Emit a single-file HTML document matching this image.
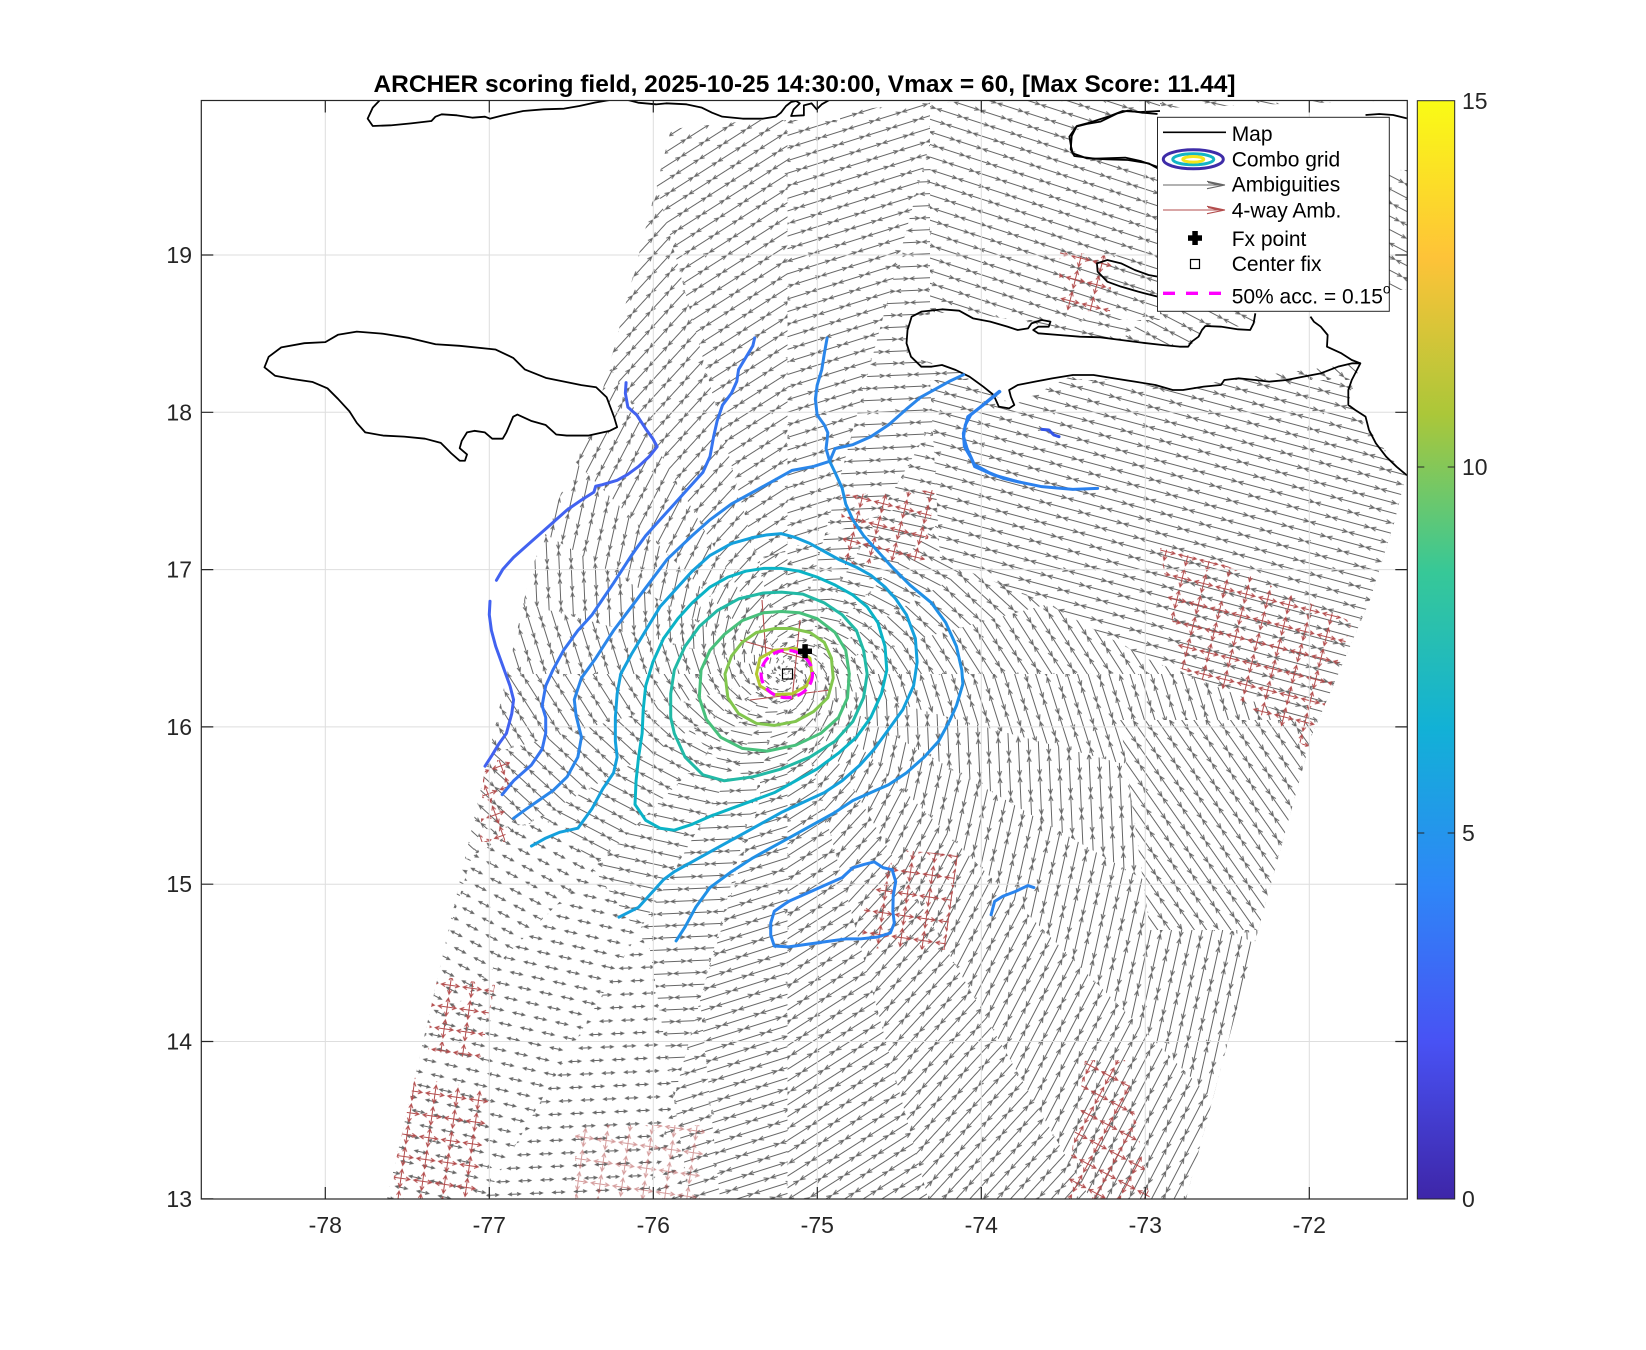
<!DOCTYPE html>
<html><head><meta charset="utf-8">
<style>
html,body{margin:0;padding:0;background:#fff;width:1646px;height:1350px;overflow:hidden;}
svg{display:block;font-family:"Liberation Sans",Arial,sans-serif;}
</style></head><body>
<svg xmlns="http://www.w3.org/2000/svg" xmlns:xlink="http://www.w3.org/1999/xlink" width="1646" height="1350" viewBox="0 0 1646 1350">
<defs>
<clipPath id="ax"><rect x="201.3" y="100.5" width="1206" height="1098.5"/></clipPath>
<clipPath id="swc"><polygon points="387,1199 495,727 531,570 562,491 600,400 640,250 671,129 921,103 1000,100 1407,100 1407,470 1395,520 1370,600 1312,735 1250,960 1186,1199"/></clipPath>
<clipPath id="longc"><polygon points="760,560 1000,470 1407,440 1407,1199 720,1199 700,1000 760,800"/><circle cx="787.5" cy="674" r="110"/></clipPath>
<clipPath id="shortc"><polygon points="380,1199 440,960 480,830 560,820 650,950 690,1199"/></clipPath>
<linearGradient id="cb" x1="0" y1="1" x2="0" y2="0">
<stop offset="0" stop-color="#3e26a8"/>
<stop offset="0.1429" stop-color="#4852f4"/>
<stop offset="0.2857" stop-color="#2e87f7"/>
<stop offset="0.4286" stop-color="#12b1d6"/>
<stop offset="0.5714" stop-color="#37c897"/>
<stop offset="0.7143" stop-color="#abc739"/>
<stop offset="0.8571" stop-color="#fec338"/>
<stop offset="1" stop-color="#f9fb15"/>
</linearGradient>

<!-- wedges around center (clipped to plot area) -->
<path id="w0" d="M787.5 674L1412 674L1412 506.7Z"/>
<path id="w1" d="M787.5 674L1412 506.7L1412 313.4Z"/>
<path id="w2" d="M787.5 674L1412 313.4L1412 95L1366.5 95Z"/>
<path id="w3" d="M787.5 674L1366.5 95L1121.8 95Z"/>
<path id="w4" d="M787.5 674L1121.8 95L942.6 95Z"/>
<path id="w5" d="M787.5 674L942.6 95L787.5 95Z"/>
<path id="w6" d="M787.5 674L787.5 95L632.4 95Z"/>
<path id="w7" d="M787.5 674L632.4 95L453.2 95Z"/>
<path id="w8" d="M787.5 674L453.2 95L208.5 95Z"/>
<path id="w9" d="M787.5 674L208.5 95L195 95L195 331.9Z"/>
<path id="w10" d="M787.5 674L195 331.9L195 515.2Z"/>
<path id="w11" d="M787.5 674L195 515.2L195 674Z"/>
<path id="w12" d="M787.5 674L195 674L195 832.8Z"/>
<path id="w13" d="M787.5 674L195 832.8L195 1016.1Z"/>
<path id="w14" d="M787.5 674L195 1016.1L195 1205L256.5 1205Z"/>
<path id="w15" d="M787.5 674L256.5 1205L480.9 1205Z"/>
<path id="w16" d="M787.5 674L480.9 1205L645.2 1205Z"/>
<path id="w17" d="M787.5 674L645.2 1205L787.5 1205Z"/>
<path id="w18" d="M787.5 674L787.5 1205L929.8 1205Z"/>
<path id="w19" d="M787.5 674L929.8 1205L1094.1 1205Z"/>
<path id="w20" d="M787.5 674L1094.1 1205L1318.5 1205Z"/>
<path id="w21" d="M787.5 674L1318.5 1205L1412 1205L1412 1034.6Z"/>
<path id="w22" d="M787.5 674L1412 1034.6L1412 841.3Z"/>
<path id="w23" d="M787.5 674L1412 841.3L1412 674Z"/>

<!-- medium patterns -->
<pattern id="M0" width="28" height="24" patternUnits="userSpaceOnUse" patternTransform="rotate(57.5)"><path d="M1 6H27M22.5 4.2L27 6L22.5 7.8M5.5 4.2L1 6L5.5 7.8M15 18H28M0 18H13M8.5 16.2L13 18L8.5 19.8M19.5 16.2L15 18L19.5 19.8" stroke="#666" fill="none"/></pattern>
<pattern id="M1" width="28" height="24" patternUnits="userSpaceOnUse" patternTransform="rotate(42.5)"><path d="M1 6H27M22.5 4.2L27 6L22.5 7.8M5.5 4.2L1 6L5.5 7.8M15 18H28M0 18H13M8.5 16.2L13 18L8.5 19.8M19.5 16.2L15 18L19.5 19.8" stroke="#666" fill="none"/></pattern>
<pattern id="M2" width="28" height="24" patternUnits="userSpaceOnUse" patternTransform="rotate(27.5)"><path d="M1 6H27M22.5 4.2L27 6L22.5 7.8M5.5 4.2L1 6L5.5 7.8M15 18H28M0 18H13M8.5 16.2L13 18L8.5 19.8M19.5 16.2L15 18L19.5 19.8" stroke="#666" fill="none"/></pattern>
<pattern id="M3" width="28" height="24" patternUnits="userSpaceOnUse" patternTransform="rotate(12.5)"><path d="M1 6H27M22.5 4.2L27 6L22.5 7.8M5.5 4.2L1 6L5.5 7.8M15 18H28M0 18H13M8.5 16.2L13 18L8.5 19.8M19.5 16.2L15 18L19.5 19.8" stroke="#666" fill="none"/></pattern>
<pattern id="M4" width="28" height="24" patternUnits="userSpaceOnUse" patternTransform="rotate(-2.5)"><path d="M1 6H27M22.5 4.2L27 6L22.5 7.8M5.5 4.2L1 6L5.5 7.8M15 18H28M0 18H13M8.5 16.2L13 18L8.5 19.8M19.5 16.2L15 18L19.5 19.8" stroke="#666" fill="none"/></pattern>
<pattern id="M5" width="28" height="24" patternUnits="userSpaceOnUse" patternTransform="rotate(-17.5)"><path d="M1 6H27M22.5 4.2L27 6L22.5 7.8M5.5 4.2L1 6L5.5 7.8M15 18H28M0 18H13M8.5 16.2L13 18L8.5 19.8M19.5 16.2L15 18L19.5 19.8" stroke="#666" fill="none"/></pattern>
<pattern id="M6" width="28" height="24" patternUnits="userSpaceOnUse" patternTransform="rotate(-32.5)"><path d="M1 6H27M22.5 4.2L27 6L22.5 7.8M5.5 4.2L1 6L5.5 7.8M15 18H28M0 18H13M8.5 16.2L13 18L8.5 19.8M19.5 16.2L15 18L19.5 19.8" stroke="#666" fill="none"/></pattern>
<pattern id="M7" width="28" height="24" patternUnits="userSpaceOnUse" patternTransform="rotate(-47.5)"><path d="M1 6H27M22.5 4.2L27 6L22.5 7.8M5.5 4.2L1 6L5.5 7.8M15 18H28M0 18H13M8.5 16.2L13 18L8.5 19.8M19.5 16.2L15 18L19.5 19.8" stroke="#666" fill="none"/></pattern>
<pattern id="M8" width="28" height="24" patternUnits="userSpaceOnUse" patternTransform="rotate(-62.5)"><path d="M1 6H27M22.5 4.2L27 6L22.5 7.8M5.5 4.2L1 6L5.5 7.8M15 18H28M0 18H13M8.5 16.2L13 18L8.5 19.8M19.5 16.2L15 18L19.5 19.8" stroke="#666" fill="none"/></pattern>
<pattern id="M9" width="28" height="24" patternUnits="userSpaceOnUse" patternTransform="rotate(-77.5)"><path d="M1 6H27M22.5 4.2L27 6L22.5 7.8M5.5 4.2L1 6L5.5 7.8M15 18H28M0 18H13M8.5 16.2L13 18L8.5 19.8M19.5 16.2L15 18L19.5 19.8" stroke="#666" fill="none"/></pattern>
<pattern id="M10" width="28" height="24" patternUnits="userSpaceOnUse" patternTransform="rotate(87.5)"><path d="M1 6H27M22.5 4.2L27 6L22.5 7.8M5.5 4.2L1 6L5.5 7.8M15 18H28M0 18H13M8.5 16.2L13 18L8.5 19.8M19.5 16.2L15 18L19.5 19.8" stroke="#666" fill="none"/></pattern>
<pattern id="M11" width="28" height="24" patternUnits="userSpaceOnUse" patternTransform="rotate(72.5)"><path d="M1 6H27M22.5 4.2L27 6L22.5 7.8M5.5 4.2L1 6L5.5 7.8M15 18H28M0 18H13M8.5 16.2L13 18L8.5 19.8M19.5 16.2L15 18L19.5 19.8" stroke="#666" fill="none"/></pattern>

<!-- long patterns -->
<pattern id="L0" width="40" height="20" patternUnits="userSpaceOnUse" patternTransform="rotate(57.5)"><path d="M1 5H39M34 3L39 5L34 7M6 3L1 5L6 7M21 15H40M0 15H19M14 13L19 15L14 17M26 13L21 15L26 17" stroke="#666" fill="none"/></pattern>
<pattern id="L1" width="40" height="20" patternUnits="userSpaceOnUse" patternTransform="rotate(42.5)"><path d="M1 5H39M34 3L39 5L34 7M6 3L1 5L6 7M21 15H40M0 15H19M14 13L19 15L14 17M26 13L21 15L26 17" stroke="#666" fill="none"/></pattern>
<pattern id="L2" width="40" height="20" patternUnits="userSpaceOnUse" patternTransform="rotate(27.5)"><path d="M1 5H39M34 3L39 5L34 7M6 3L1 5L6 7M21 15H40M0 15H19M14 13L19 15L14 17M26 13L21 15L26 17" stroke="#666" fill="none"/></pattern>
<pattern id="L3" width="40" height="20" patternUnits="userSpaceOnUse" patternTransform="rotate(12.5)"><path d="M1 5H39M34 3L39 5L34 7M6 3L1 5L6 7M21 15H40M0 15H19M14 13L19 15L14 17M26 13L21 15L26 17" stroke="#666" fill="none"/></pattern>
<pattern id="L4" width="40" height="20" patternUnits="userSpaceOnUse" patternTransform="rotate(-2.5)"><path d="M1 5H39M34 3L39 5L34 7M6 3L1 5L6 7M21 15H40M0 15H19M14 13L19 15L14 17M26 13L21 15L26 17" stroke="#666" fill="none"/></pattern>
<pattern id="L5" width="40" height="20" patternUnits="userSpaceOnUse" patternTransform="rotate(-17.5)"><path d="M1 5H39M34 3L39 5L34 7M6 3L1 5L6 7M21 15H40M0 15H19M14 13L19 15L14 17M26 13L21 15L26 17" stroke="#666" fill="none"/></pattern>
<pattern id="L6" width="40" height="20" patternUnits="userSpaceOnUse" patternTransform="rotate(-32.5)"><path d="M1 5H39M34 3L39 5L34 7M6 3L1 5L6 7M21 15H40M0 15H19M14 13L19 15L14 17M26 13L21 15L26 17" stroke="#666" fill="none"/></pattern>
<pattern id="L7" width="40" height="20" patternUnits="userSpaceOnUse" patternTransform="rotate(-47.5)"><path d="M1 5H39M34 3L39 5L34 7M6 3L1 5L6 7M21 15H40M0 15H19M14 13L19 15L14 17M26 13L21 15L26 17" stroke="#666" fill="none"/></pattern>
<pattern id="L8" width="40" height="20" patternUnits="userSpaceOnUse" patternTransform="rotate(-62.5)"><path d="M1 5H39M34 3L39 5L34 7M6 3L1 5L6 7M21 15H40M0 15H19M14 13L19 15L14 17M26 13L21 15L26 17" stroke="#666" fill="none"/></pattern>
<pattern id="L9" width="40" height="20" patternUnits="userSpaceOnUse" patternTransform="rotate(-77.5)"><path d="M1 5H39M34 3L39 5L34 7M6 3L1 5L6 7M21 15H40M0 15H19M14 13L19 15L14 17M26 13L21 15L26 17" stroke="#666" fill="none"/></pattern>
<pattern id="L10" width="40" height="20" patternUnits="userSpaceOnUse" patternTransform="rotate(87.5)"><path d="M1 5H39M34 3L39 5L34 7M6 3L1 5L6 7M21 15H40M0 15H19M14 13L19 15L14 17M26 13L21 15L26 17" stroke="#666" fill="none"/></pattern>
<pattern id="L11" width="40" height="20" patternUnits="userSpaceOnUse" patternTransform="rotate(72.5)"><path d="M1 5H39M34 3L39 5L34 7M6 3L1 5L6 7M21 15H40M0 15H19M14 13L19 15L14 17M26 13L21 15L26 17" stroke="#666" fill="none"/></pattern>

<!-- short patterns -->
<pattern id="S0" width="22" height="26" patternUnits="userSpaceOnUse" patternTransform="rotate(57.5)"><path d="M5 6.5H17M13.5 5L17 6.5L13.5 8M8.5 5L5 6.5L8.5 8M16 19.5H22M0 19.5H6M2.5 18L6 19.5L2.5 21M19.5 18L16 19.5L19.5 21" stroke="#666" fill="none"/></pattern>
<pattern id="S1" width="22" height="26" patternUnits="userSpaceOnUse" patternTransform="rotate(42.5)"><path d="M5 6.5H17M13.5 5L17 6.5L13.5 8M8.5 5L5 6.5L8.5 8M16 19.5H22M0 19.5H6M2.5 18L6 19.5L2.5 21M19.5 18L16 19.5L19.5 21" stroke="#666" fill="none"/></pattern>
<pattern id="S2" width="22" height="26" patternUnits="userSpaceOnUse" patternTransform="rotate(27.5)"><path d="M5 6.5H17M13.5 5L17 6.5L13.5 8M8.5 5L5 6.5L8.5 8M16 19.5H22M0 19.5H6M2.5 18L6 19.5L2.5 21M19.5 18L16 19.5L19.5 21" stroke="#666" fill="none"/></pattern>
<pattern id="S3" width="22" height="26" patternUnits="userSpaceOnUse" patternTransform="rotate(12.5)"><path d="M5 6.5H17M13.5 5L17 6.5L13.5 8M8.5 5L5 6.5L8.5 8M16 19.5H22M0 19.5H6M2.5 18L6 19.5L2.5 21M19.5 18L16 19.5L19.5 21" stroke="#666" fill="none"/></pattern>
<pattern id="S4" width="22" height="26" patternUnits="userSpaceOnUse" patternTransform="rotate(-2.5)"><path d="M5 6.5H17M13.5 5L17 6.5L13.5 8M8.5 5L5 6.5L8.5 8M16 19.5H22M0 19.5H6M2.5 18L6 19.5L2.5 21M19.5 18L16 19.5L19.5 21" stroke="#666" fill="none"/></pattern>
<pattern id="S5" width="22" height="26" patternUnits="userSpaceOnUse" patternTransform="rotate(-17.5)"><path d="M5 6.5H17M13.5 5L17 6.5L13.5 8M8.5 5L5 6.5L8.5 8M16 19.5H22M0 19.5H6M2.5 18L6 19.5L2.5 21M19.5 18L16 19.5L19.5 21" stroke="#666" fill="none"/></pattern>
<pattern id="S6" width="22" height="26" patternUnits="userSpaceOnUse" patternTransform="rotate(-32.5)"><path d="M5 6.5H17M13.5 5L17 6.5L13.5 8M8.5 5L5 6.5L8.5 8M16 19.5H22M0 19.5H6M2.5 18L6 19.5L2.5 21M19.5 18L16 19.5L19.5 21" stroke="#666" fill="none"/></pattern>
<pattern id="S7" width="22" height="26" patternUnits="userSpaceOnUse" patternTransform="rotate(-47.5)"><path d="M5 6.5H17M13.5 5L17 6.5L13.5 8M8.5 5L5 6.5L8.5 8M16 19.5H22M0 19.5H6M2.5 18L6 19.5L2.5 21M19.5 18L16 19.5L19.5 21" stroke="#666" fill="none"/></pattern>
<pattern id="S8" width="22" height="26" patternUnits="userSpaceOnUse" patternTransform="rotate(-62.5)"><path d="M5 6.5H17M13.5 5L17 6.5L13.5 8M8.5 5L5 6.5L8.5 8M16 19.5H22M0 19.5H6M2.5 18L6 19.5L2.5 21M19.5 18L16 19.5L19.5 21" stroke="#666" fill="none"/></pattern>
<pattern id="S9" width="22" height="26" patternUnits="userSpaceOnUse" patternTransform="rotate(-77.5)"><path d="M5 6.5H17M13.5 5L17 6.5L13.5 8M8.5 5L5 6.5L8.5 8M16 19.5H22M0 19.5H6M2.5 18L6 19.5L2.5 21M19.5 18L16 19.5L19.5 21" stroke="#666" fill="none"/></pattern>
<pattern id="S10" width="22" height="26" patternUnits="userSpaceOnUse" patternTransform="rotate(87.5)"><path d="M5 6.5H17M13.5 5L17 6.5L13.5 8M8.5 5L5 6.5L8.5 8M16 19.5H22M0 19.5H6M2.5 18L6 19.5L2.5 21M19.5 18L16 19.5L19.5 21" stroke="#666" fill="none"/></pattern>
<pattern id="S11" width="22" height="26" patternUnits="userSpaceOnUse" patternTransform="rotate(72.5)"><path d="M5 6.5H17M13.5 5L17 6.5L13.5 8M8.5 5L5 6.5L8.5 8M16 19.5H22M0 19.5H6M2.5 18L6 19.5L2.5 21M19.5 18L16 19.5L19.5 21" stroke="#666" fill="none"/></pattern>

<!-- override patterns -->
<pattern id="LR15" width="40" height="20" patternUnits="userSpaceOnUse" patternTransform="rotate(15)"><path d="M1 5H39M34 3L39 5L34 7M6 3L1 5L6 7M21 15H40M0 15H19M14 13L19 15L14 17M26 13L21 15L26 17" stroke="#666" fill="none"/></pattern>
<pattern id="LR55" width="40" height="20" patternUnits="userSpaceOnUse" patternTransform="rotate(55)"><path d="M1 5H39M34 3L39 5L34 7M6 3L1 5L6 7M21 15H40M0 15H19M14 13L19 15L14 17M26 13L21 15L26 17" stroke="#666" fill="none"/></pattern>
<pattern id="MR18" width="28" height="24" patternUnits="userSpaceOnUse" patternTransform="rotate(18)"><path d="M1 6H27M22.5 4.2L27 6L22.5 7.8M5.5 4.2L1 6L5.5 7.8M15 18H28M0 18H13M8.5 16.2L13 18L8.5 19.8M19.5 16.2L15 18L19.5 19.8" stroke="#666" fill="none"/></pattern>

<!-- red 4-way patterns -->
<pattern id="R14" width="22" height="22" patternUnits="userSpaceOnUse" patternTransform="rotate(14)"><path d="M2 11H20M11 2V20M16 9L20 11L16 13M6 9L2 11L6 13M9 6L11 2L13 6M9 16L11 20L13 16" stroke="#b34d4d" fill="none"/></pattern>
<pattern id="R8" width="22" height="22" patternUnits="userSpaceOnUse" patternTransform="rotate(8)"><path d="M2 11H20M11 2V20M16 9L20 11L16 13M6 9L2 11L6 13M9 6L11 2L13 6M9 16L11 20L13 16" stroke="#b34d4d" fill="none"/></pattern>
<pattern id="R28" width="22" height="22" patternUnits="userSpaceOnUse" patternTransform="rotate(28)"><path d="M2 11H20M11 2V20M16 9L20 11L16 13M6 9L2 11L6 13M9 6L11 2L13 6M9 16L11 20L13 16" stroke="#b34d4d" fill="none"/></pattern>
<pattern id="Rm20" width="22" height="22" patternUnits="userSpaceOnUse" patternTransform="rotate(-20)"><path d="M2 11H20M11 2V20M16 9L20 11L16 13M6 9L2 11L6 13M9 6L11 2L13 6M9 16L11 20L13 16" stroke="#b34d4d" fill="none"/></pattern>
</defs>

<rect width="1646" height="1350" fill="#fff"/>

<!-- wind ambiguity field -->
<g clip-path="url(#ax)">
<g clip-path="url(#swc)">
<use href="#w0" fill="url(#M0)"/><use href="#w1" fill="url(#M1)"/><use href="#w2" fill="url(#M2)"/><use href="#w3" fill="url(#M3)"/>
<use href="#w4" fill="url(#M4)"/><use href="#w5" fill="url(#M5)"/><use href="#w6" fill="url(#M6)"/><use href="#w7" fill="url(#M7)"/>
<use href="#w8" fill="url(#M8)"/><use href="#w9" fill="url(#M9)"/><use href="#w10" fill="url(#M10)"/><use href="#w11" fill="url(#M11)"/>
<use href="#w12" fill="url(#M0)"/><use href="#w13" fill="url(#M1)"/><use href="#w14" fill="url(#M2)"/><use href="#w15" fill="url(#M3)"/>
<use href="#w16" fill="url(#M4)"/><use href="#w17" fill="url(#M5)"/><use href="#w18" fill="url(#M6)"/><use href="#w19" fill="url(#M7)"/>
<use href="#w20" fill="url(#M8)"/><use href="#w21" fill="url(#M9)"/><use href="#w22" fill="url(#M10)"/><use href="#w23" fill="url(#M11)"/>

<g clip-path="url(#longc)">
<rect x="201" y="100" width="1207" height="1100" fill="#fff"/>
<use href="#w0" fill="url(#L0)"/><use href="#w1" fill="url(#L1)"/><use href="#w2" fill="url(#L2)"/><use href="#w3" fill="url(#L3)"/>
<use href="#w4" fill="url(#L4)"/><use href="#w5" fill="url(#L5)"/><use href="#w6" fill="url(#L6)"/><use href="#w7" fill="url(#L7)"/>
<use href="#w8" fill="url(#L8)"/><use href="#w9" fill="url(#L9)"/><use href="#w10" fill="url(#L10)"/><use href="#w11" fill="url(#L11)"/>
<use href="#w12" fill="url(#L0)"/><use href="#w13" fill="url(#L1)"/><use href="#w14" fill="url(#L2)"/><use href="#w15" fill="url(#L3)"/>
<use href="#w16" fill="url(#L4)"/><use href="#w17" fill="url(#L5)"/><use href="#w18" fill="url(#L6)"/><use href="#w19" fill="url(#L7)"/>
<use href="#w20" fill="url(#L8)"/><use href="#w21" fill="url(#L9)"/><use href="#w22" fill="url(#L10)"/><use href="#w23" fill="url(#L11)"/>
</g>

<g clip-path="url(#shortc)">
<rect x="201" y="100" width="1207" height="1100" fill="#fff"/>
<use href="#w0" fill="url(#S0)"/><use href="#w1" fill="url(#S1)"/><use href="#w2" fill="url(#S2)"/><use href="#w3" fill="url(#S3)"/>
<use href="#w4" fill="url(#S4)"/><use href="#w5" fill="url(#S5)"/><use href="#w6" fill="url(#S6)"/><use href="#w7" fill="url(#S7)"/>
<use href="#w8" fill="url(#S8)"/><use href="#w9" fill="url(#S9)"/><use href="#w10" fill="url(#S10)"/><use href="#w11" fill="url(#S11)"/>
<use href="#w12" fill="url(#S0)"/><use href="#w13" fill="url(#S1)"/><use href="#w14" fill="url(#S2)"/><use href="#w15" fill="url(#S3)"/>
<use href="#w16" fill="url(#S4)"/><use href="#w17" fill="url(#S5)"/><use href="#w18" fill="url(#S6)"/><use href="#w19" fill="url(#S7)"/>
<use href="#w20" fill="url(#S8)"/><use href="#w21" fill="url(#S9)"/><use href="#w22" fill="url(#S10)"/><use href="#w23" fill="url(#S11)"/>
</g>

<!-- environmental overrides -->
<polygon points="930,380 1407,380 1407,720 1300,720 1150,660 1040,600 940,560" fill="#fff"/>
<polygon points="930,380 1407,380 1407,720 1300,720 1150,660 1040,600 940,560" fill="url(#LR15)"/>
<polygon points="1120,720 1320,720 1270,930 1150,930" fill="#fff"/>
<polygon points="1120,720 1320,720 1270,930 1150,930" fill="url(#LR55)"/>
<polygon points="930,100 1160,100 1160,320 930,320" fill="#fff"/>
<polygon points="930,100 1160,100 1160,320 930,320" fill="url(#MR18)"/>

<!-- 4-way ambiguity patches -->
<polygon points="1160,548 1225,565 1352,622 1310,750 1240,700 1180,668" fill="url(#R14)"/>
<polygon points="840,495 935,490 925,560 845,565" fill="url(#R14)"/>
<polygon points="1060,252 1112,255 1110,312 1058,310" fill="url(#R14)"/>
<polygon points="398,1075 490,1090 475,1199 393,1199" fill="url(#R8)"/>
<polygon points="433,975 495,985 480,1060 428,1050" fill="url(#R8)"/>
<polygon points="1085,1060 1125,1060 1150,1199 1065,1199" fill="url(#R28)"/>
<polygon points="900,850 958,855 945,950 860,948 865,900" fill="url(#R8)"/>
<polygon points="484,760 510,760 505,842 480,842" fill="url(#Rm20)"/>
<polygon points="575,1125 705,1125 700,1199 575,1199" fill="url(#R8)" opacity="0.55"/>
<path d="M762 600L766 655M740 640L810 660M800 620L792 700M750 700L830 690" stroke="#b34d4d" stroke-width="1.1" fill="none"/>
</g>

<!-- land masks -->
<g fill="#fff">
<polygon points="911.7,316.7 959.2,310.7 1031.5,323.3 1052.2,333.3 1189.9,346.7 1205.4,326 1255.3,326.7 1255,290 1407,290 1407,478 1348.3,403.3 1360.4,363.3 1224.4,380 1183,390 1072.8,375 1014.3,405 993.6,395 955.8,370 911,356.7 906.5,340"/>
<polygon points="1069,136 1086,124 1117,113 1160,108 1407,100 1407,170 1160,168 1086,158 1071,147"/>
<polygon points="350,100 840,100 840,120 350,120"/>
</g>
</g>

<!-- grid -->
<g stroke="#dedede" stroke-width="1">
<line x1="325.3" y1="100.5" x2="325.3" y2="1199"/>
<line x1="489.3" y1="100.5" x2="489.3" y2="1199"/>
<line x1="653.3" y1="100.5" x2="653.3" y2="1199"/>
<line x1="817.3" y1="100.5" x2="817.3" y2="1199"/>
<line x1="981.3" y1="100.5" x2="981.3" y2="1199"/>
<line x1="1145.3" y1="100.5" x2="1145.3" y2="1199"/>
<line x1="1309.3" y1="100.5" x2="1309.3" y2="1199"/>
<line x1="201.3" y1="255" x2="1407.3" y2="255"/>
<line x1="201.3" y1="412.3" x2="1407.3" y2="412.3"/>
<line x1="201.3" y1="569.6" x2="1407.3" y2="569.6"/>
<line x1="201.3" y1="726.9" x2="1407.3" y2="726.9"/>
<line x1="201.3" y1="884.2" x2="1407.3" y2="884.2"/>
<line x1="201.3" y1="1041.5" x2="1407.3" y2="1041.5"/>
</g>

<g clip-path="url(#ax)">
<!-- coastlines -->
<g fill="none" stroke="#000" stroke-width="1.8" stroke-linejoin="round">
<g transform="scale(1.0495)">
<polygon fill="#fff" vector-effect="non-scaling-stroke" points="252,350 256,340 268,331 290,327 310,326 322,319 340,316 365,318 390,322 415,328 438,329.5 472,333 489,341 500,352 520,360 554,367 568,369 578,378.5 585,397 588,407 581,410.5 561,415 540,415 530,414 520,405 506,401 493,395 489,397 482.5,412 479,418 469,418 462,412 452,410.5 445,412 440,420 438,427 445,433 443,439 438,439 430,432 420,422 405,418 385,416 365,415 348,412 340,403 333,392 322,380 312,370 298,364 278,361 262,358"/>
</g>
<g transform="translate(360,96) scale(0.510204,0.333333)">
<polyline vector-effect="non-scaling-stroke" points="38,14 25,35 15,68 25,90 60,88 100,82 140,75 148,62 160,55 190,58 220,65 245,62 255,68 280,58 320,45 360,40 400,38 430,30 460,20 490,12"/>
<polyline vector-effect="non-scaling-stroke" points="525,12 545,20 580,25 600,22 640,25 670,35 690,50 710,62 750,68 790,68 815,62 825,50 835,30 845,18 855,15 862,22 850,40 845,60 870,58 870,28 885,22 895,40 905,25 920,12"/>
<polyline vector-effect="non-scaling-stroke" points="1568,45 1530,48 1495,45 1470,60 1430,80 1405,90 1395,120 1393,160 1400,180 1440,188 1500,185 1530,195 1568,215"/>
</g>
<g transform="translate(880,100) scale(0.344353,0.333333)">
<polyline vector-effect="non-scaling-stroke" points="1410,45 1450,42 1490,45 1530,55"/>
<polyline vector-effect="non-scaling-stroke" points="1090,640 1085,670 1075,690 1040,688 990,680 945,678 935,690 925,710 905,725 895,740 870,740 820,735 760,728 700,720 640,712 580,710 520,705 460,700 445,690 460,680 490,680 495,665 470,660 440,670 430,685 400,690 370,680 320,665 270,655 230,632 180,628 120,635 92,650 80,690 77,730 90,770 120,800 150,800 180,795 220,810 260,830 300,860 330,885 345,920 375,925 390,915 380,890 375,870 400,855 450,845 500,835 560,825 620,825 680,835 740,845 800,855 850,870 880,870 940,860 990,855 1000,840 1040,835 1090,840 1130,845 1180,840 1230,830 1280,820 1330,800 1370,790 1395,790 1385,810 1370,840 1360,870 1360,915 1380,930 1410,950 1420,990 1440,1030 1470,1070 1500,1100 1530,1126"/>
<polyline vector-effect="non-scaling-stroke" points="1250,650 1260,665 1280,680 1300,705 1298,740 1340,760 1370,780 1395,790"/>
<polyline vector-effect="non-scaling-stroke" points="806,530 780,525 740,510 700,490 660,480 630,490 632,515 660,545 700,560 750,575 806,590"/>
<polyline vector-effect="non-scaling-stroke" points="806,42 760,38 720,32 690,40 640,65 600,72 570,80 550,110 555,140 560,160 600,175 660,178 720,180 780,190 806,205"/>
</g>
</g>

<!-- contours -->
<g fill="none" stroke-width="3" stroke-linejoin="round" stroke-linecap="round">
<g transform="translate(460,330) scale(0.357143,0.395413)">
<polyline vector-effect="non-scaling-stroke" stroke="#4262f0" points="84,686 82,720 88,760 100,800 120,850 140,900 150,935 145,970 130,1020 110,1045 90,1075 70,1103"/>
<polyline vector-effect="non-scaling-stroke" stroke="#4262f0" points="102,633 120,605 150,575 200,535 250,495 300,455 340,430 375,410 380,395 395,392 440,380 470,365 500,345 530,320 552,295 540,275 520,250 495,215 470,195 463,160 465,133"/>
<polyline vector-effect="non-scaling-stroke" stroke="#3574f0" points="118,1175 150,1140 200,1100 230,1060 240,1020 240,980 230,950 240,900 260,860 290,810 330,760 370,720 400,680 430,640 480,570 520,520 560,480 600,440 640,400 680,360 700,320 710,270 720,230 735,190 760,160 775,130 780,100 800,70 820,40 825,20"/>
<polyline vector-effect="non-scaling-stroke" stroke="#2a86ea" points="150,1235 180,1215 220,1190 260,1165 300,1130 330,1080 340,1030 325,975 320,935 340,880 380,830 430,760 480,700 530,640 580,580 650,520 700,480 760,440 830,405 880,380 930,355 990,345 1035,332"/>
<polyline vector-effect="non-scaling-stroke" stroke="#2a86ea" points="1028,20 1020,60 1013,100 1000,140 995,175 1000,215 1020,240 1030,260 1025,300 1035,332"/>
<polyline vector-effect="non-scaling-stroke" stroke="#2a86ea" points="1035,332 1050,300 1100,290 1150,270 1200,240 1250,200 1290,170 1330,150 1370,130 1410,113"/>
<polyline vector-effect="non-scaling-stroke" stroke="#2090e6" points="1035,332 1050,360 1070,400 1080,440 1100,480 1130,520 1170,560 1210,600 1260,645 1320,690 1360,740 1390,800 1405,860 1408,895 1390,950 1370,990 1340,1040 1300,1080 1250,1120 1200,1150 1150,1170 1100,1190 1050,1220 990,1250 930,1280 870,1310 820,1335 760,1370 700,1410 660,1460 630,1510 605,1545"/>
<polyline vector-effect="non-scaling-stroke" stroke="#14a0dc" points="200,1305 240,1285 280,1270 330,1260 370,1210 400,1160 430,1120 440,1080 435,1040 435,980 440,920 450,870 480,820 520,760 560,700 600,660 650,610 700,570 760,540 820,525 860,518 900,515 940,525 980,540 1020,560 1060,580 1110,600 1150,620 1190,650 1220,680 1250,720 1275,780 1280,840 1270,900 1240,960 1200,1010 1160,1060 1120,1100 1070,1140 1020,1170 960,1195 900,1220 840,1250 780,1280 720,1310 660,1340 600,1370 570,1390 540,1420 500,1460 445,1485"/>
<polygon vector-effect="non-scaling-stroke" stroke="#0bb3c6" points="490,1200 520,1240 560,1260 600,1265 650,1250 700,1230 760,1210 820,1190 880,1170 940,1140 1000,1110 1060,1070 1110,1030 1150,980 1180,920 1195,860 1190,800 1170,740 1140,700 1100,670 1050,645 1000,625 950,610 900,603 850,603 800,610 750,625 700,650 650,690 610,730 570,780 540,840 520,900 513,960 510,1020 500,1080 493,1140"/>
<polygon vector-effect="non-scaling-stroke" stroke="#22b9a6" points="600,1020 630,1080 680,1125 740,1140 820,1130 900,1110 980,1080 1050,1040 1100,990 1130,930 1140,870 1130,810 1110,760 1070,720 1020,690 960,668 900,663 850,665 780,680 720,710 670,750 630,800 600,860 590,920 590,980"/>
<polygon vector-effect="non-scaling-stroke" stroke="#48c07c" points="670,930 690,985 730,1030 790,1058 860,1065 940,1050 1010,1020 1060,980 1085,930 1090,870 1080,810 1050,765 1000,730 950,715 900,712 850,715 790,735 740,770 700,810 675,860"/>
<polygon vector-effect="non-scaling-stroke" stroke="#82c64e" points="742,870 750,930 780,970 830,995 880,1000 940,990 990,965 1030,930 1045,880 1040,830 1020,790 980,765 930,755 880,755 830,765 790,790 760,825"/>
<polygon vector-effect="non-scaling-stroke" stroke="#b2c832" points="830,870 840,830 880,810 940,805 980,830 985,870 970,900 930,920 880,922 840,900"/>
<polygon vector-effect="non-scaling-stroke" stroke="#2a84ee" points="870,1500 880,1470 920,1445 970,1425 1020,1405 1070,1385 1100,1360 1130,1352 1160,1345 1185,1360 1210,1365 1220,1395 1213,1430 1212,1470 1216,1500 1205,1525 1170,1535 1120,1540 1080,1540 1040,1545 1000,1550 960,1555 920,1560 880,1558 870,1530"/>
<polyline vector-effect="non-scaling-stroke" stroke="#2a84ee" points="1487,1479 1497,1445 1520,1432 1555,1420 1590,1405 1607,1410"/>
<polyline vector-effect="non-scaling-stroke" stroke="#2a80ee" points="1510,155 1470,185 1430,215 1415,240 1410,270 1420,300 1440,340 1480,360 1520,375 1568,385"/>
</g>
<g transform="translate(880,100) scale(0.344353,0.333333)">
<polyline vector-effect="non-scaling-stroke" stroke="#2a80ee" points="348,875 300,915 255,950 242,1000 245,1040 265,1075 275,1100 330,1125 400,1145 470,1160 560,1168 632,1165"/>
<polyline vector-effect="non-scaling-stroke" stroke="#3355e8" points="470,988 490,990 505,1005 520,1010"/>
</g>
</g>

<!-- center markers -->
<ellipse cx="786.8" cy="674" rx="25.7" ry="23.7" fill="none" stroke="#ff00ff" stroke-width="3.2" stroke-dasharray="11,6"/>
<rect x="782.5" y="669" width="10" height="10" fill="none" stroke="#000" stroke-width="1.2"/>
<rect x="798" y="648.5" width="14" height="5.5" fill="#000"/>
<rect x="802.3" y="644.2" width="5.5" height="14" fill="#000"/>
</g>

<!-- axes frame and ticks -->
<rect x="201.3" y="100.5" width="1206" height="1098.5" fill="none" stroke="#262626" stroke-width="1.2"/>
<g stroke="#262626" stroke-width="1.2">
<path d="M325.3 1199V1187M489.3 1199V1187M653.3 1199V1187M817.3 1199V1187M981.3 1199V1187M1145.3 1199V1187M1309.3 1199V1187"/>
<path d="M325.3 100.5V112.5M489.3 100.5V112.5M653.3 100.5V112.5M817.3 100.5V112.5M981.3 100.5V112.5M1145.3 100.5V112.5M1309.3 100.5V112.5"/>
<path d="M201.3 255H213.3M201.3 412.3H213.3M201.3 569.6H213.3M201.3 726.9H213.3M201.3 884.2H213.3M201.3 1041.5H213.3M201.3 1198.8H213.3"/>
<path d="M1407.3 255H1395.3M1407.3 412.3H1395.3M1407.3 569.6H1395.3M1407.3 726.9H1395.3M1407.3 884.2H1395.3M1407.3 1041.5H1395.3"/>
</g>
<g fill="#262626" font-size="23" text-anchor="middle">
<text x="325.3" y="1233">-78</text>
<text x="489.3" y="1233">-77</text>
<text x="653.3" y="1233">-76</text>
<text x="817.3" y="1233">-75</text>
<text x="981.3" y="1233">-74</text>
<text x="1145.3" y="1233">-73</text>
<text x="1309.3" y="1233">-72</text>
</g>
<g fill="#262626" font-size="23" text-anchor="end">
<text x="192" y="263">19</text>
<text x="192" y="420.3">18</text>
<text x="192" y="577.6">17</text>
<text x="192" y="734.9">16</text>
<text x="192" y="892.2">15</text>
<text x="192" y="1049.5">14</text>
<text x="192" y="1206.8">13</text>
</g>

<!-- legend -->
<rect x="1157.5" y="117.3" width="231.8" height="194" fill="#fff" stroke="#262626" stroke-width="1"/>
<line x1="1163" y1="132.3" x2="1226" y2="132.3" stroke="#000" stroke-width="1.6"/>
<ellipse cx="1193.3" cy="159.3" rx="30" ry="9.5" fill="none" stroke="#3e2ca8" stroke-width="3"/>
<ellipse cx="1193.3" cy="159.3" rx="20.5" ry="5.5" fill="none" stroke="#13b5c5" stroke-width="3"/>
<ellipse cx="1193.3" cy="159.3" rx="10.5" ry="2.8" fill="none" stroke="#f5e61a" stroke-width="3"/>
<path d="M1163 185H1225M1225 185L1207 181.3M1225 185L1207 188.7M1220 185L1208 182.6" fill="none" stroke="#666" stroke-width="1.1"/>
<path d="M1163 210H1225M1225 210L1207 206.3M1225 210L1207 213.7M1220 210L1208 207.6" fill="none" stroke="#b34d4d" stroke-width="1.1"/>
<rect x="1188" y="235.3" width="14" height="5.5" fill="#000"/>
<rect x="1192.3" y="231" width="5.5" height="14" fill="#000"/>
<rect x="1190.5" y="259.5" width="9" height="9" fill="none" stroke="#000" stroke-width="1.2"/>
<line x1="1163" y1="293.3" x2="1227" y2="293.3" stroke="#ff00ff" stroke-width="3.3" stroke-dasharray="12,11"/>
<g fill="#000" font-size="21">
<text x="1231.7" y="141">Map</text>
<text x="1231.7" y="166.3">Combo grid</text>
<text x="1231.7" y="191.7">Ambiguities</text>
<text x="1231.7" y="217.3">4-way Amb.</text>
<text x="1231.7" y="246">Fx point</text>
<text x="1231.7" y="271">Center fix</text>
<text x="1231.7" y="303.3">50% acc. = 0.15<tspan font-size="14" dy="-10">o</tspan></text>
</g>

<!-- colorbar -->
<rect x="1417.3" y="100.7" width="37.4" height="1098.3" fill="url(#cb)" stroke="#262626" stroke-width="1"/>
<path d="M1454.7 467H1447.7M1454.7 833H1447.7M1417.3 467H1424.3M1417.3 833H1424.3" stroke="#262626" stroke-width="1"/>
<g fill="#262626" font-size="23">
<text x="1462" y="109">15</text>
<text x="1462" y="475">10</text>
<text x="1462" y="841">5</text>
<text x="1462" y="1207">0</text>
</g>

<!-- title -->
<text x="804.5" y="92" text-anchor="middle" font-size="24" font-weight="bold" fill="#000" textLength="862" lengthAdjust="spacingAndGlyphs">ARCHER scoring field, 2025-10-25 14:30:00, Vmax = 60, [Max Score: 11.44]</text>
</svg>
</body></html>
